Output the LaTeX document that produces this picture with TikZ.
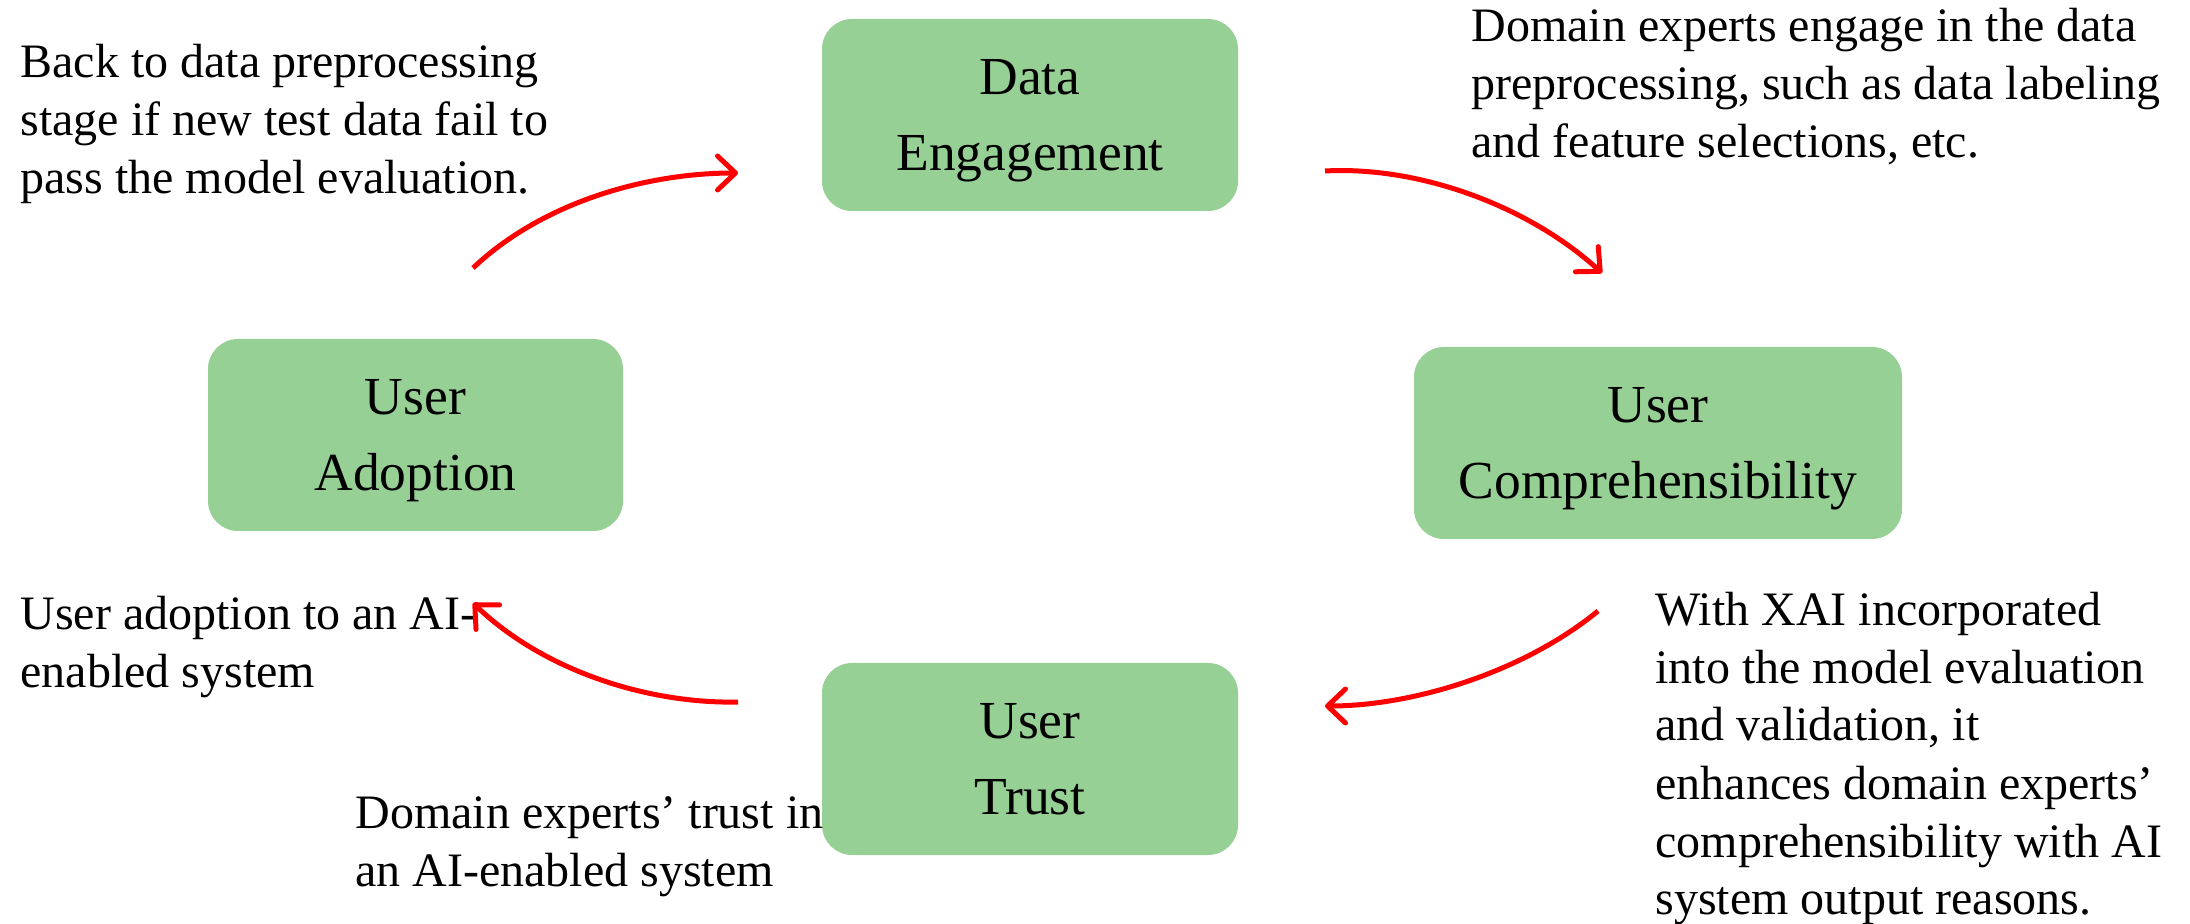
\documentclass[tikz,border=0pt]{standalone}
\usepackage{fontspec}
\setmainfont{Liberation Serif}
\usetikzlibrary{arrows.meta}

\definecolor{boxgreen}{RGB}{151,208,149}
\definecolor{flowred}{RGB}{255,0,0}
\newcommand{\notefont}{\fontsize{24}{29}\selectfont}
\newcommand{\stagefont}{\fontsize{26.75}{38}\selectfont}
\newcommand{\notelines}[1]{\begin{tabular}[t]{@{}l@{}}#1\end{tabular}}

\begin{document}
\begin{tikzpicture}[x=0.5pt, y=-0.5pt,
  stage/.style={fill=boxgreen, rounded corners=15pt, minimum width=#1,
    minimum height=96pt, align=center, font=\stagefont, inner sep=0pt,
    text depth=0pt},
  note/.style={anchor=base west, inner sep=0pt, font=\notefont},
  flow/.style={draw=flowred, line width=2.5pt,
    -{Straight Barb[length=9pt, width=17pt, round]}}]

\useasboundingbox (0,0) rectangle (2190,924);

% stages of the cycle
\node[stage=208pt] (data)  at (1030,115)  {Data\\Engagement};
\node[stage=244pt] (comp)  at (1658,443)  {User\\Comprehensibility};
\node[stage=208pt] (trust) at (1030,759)  {User\\Trust};
\node[stage=207.5pt] (adopt) at (415.5,435) {User\\Adoption};

% explanatory notes
\node[note] (noteback) at (20,78)
  {\notelines{Back to data preprocessing\\stage if new test data fail to\\pass the model evaluation.}};
\node[note] (notedata) at (1471,42)
  {\notelines{Domain experts engage in the data\\preprocessing, such as data labeling\\and feature selections, etc.}};
\node[note] (notecomp) at (1655,625)
  {\notelines{With XAI incorporated\\into the model evaluation\\and validation, it\\enhances domain experts’\\comprehensibility with AI\\system output reasons.}};
\node[note] (noteadopt) at (20,630)
  {\notelines{User adoption to an AI-\\enabled system}};
\node[note] (notetrust) at (355,828)
  {\notelines{Domain experts’ trust in\\an AI-enabled system}};

% end points of the cycle arrows
\coordinate (a1s) at (473,268);
\coordinate (a1e) at (738,173);
\coordinate (a2s) at (1325,171);
\coordinate (a2e) at (1602,273);
\coordinate (a3s) at (1598,611);
\coordinate (a3e) at (1325,706);
\coordinate (a4s) at (738,702);
\coordinate (a4e) at (473,603);

% cycle arrows
\draw[flow] (a1s) .. controls (545,200) and (650,173) .. (a1e);
\draw[flow] (a2s) .. controls (1415,166) and (1525,203) .. (a2e);
\draw[flow] (a3s) .. controls (1525,671) and (1415,706) .. (a3e);
\draw[flow] (a4s) .. controls (650,704) and (545,672) .. (a4e);
\end{tikzpicture}
\end{document}
